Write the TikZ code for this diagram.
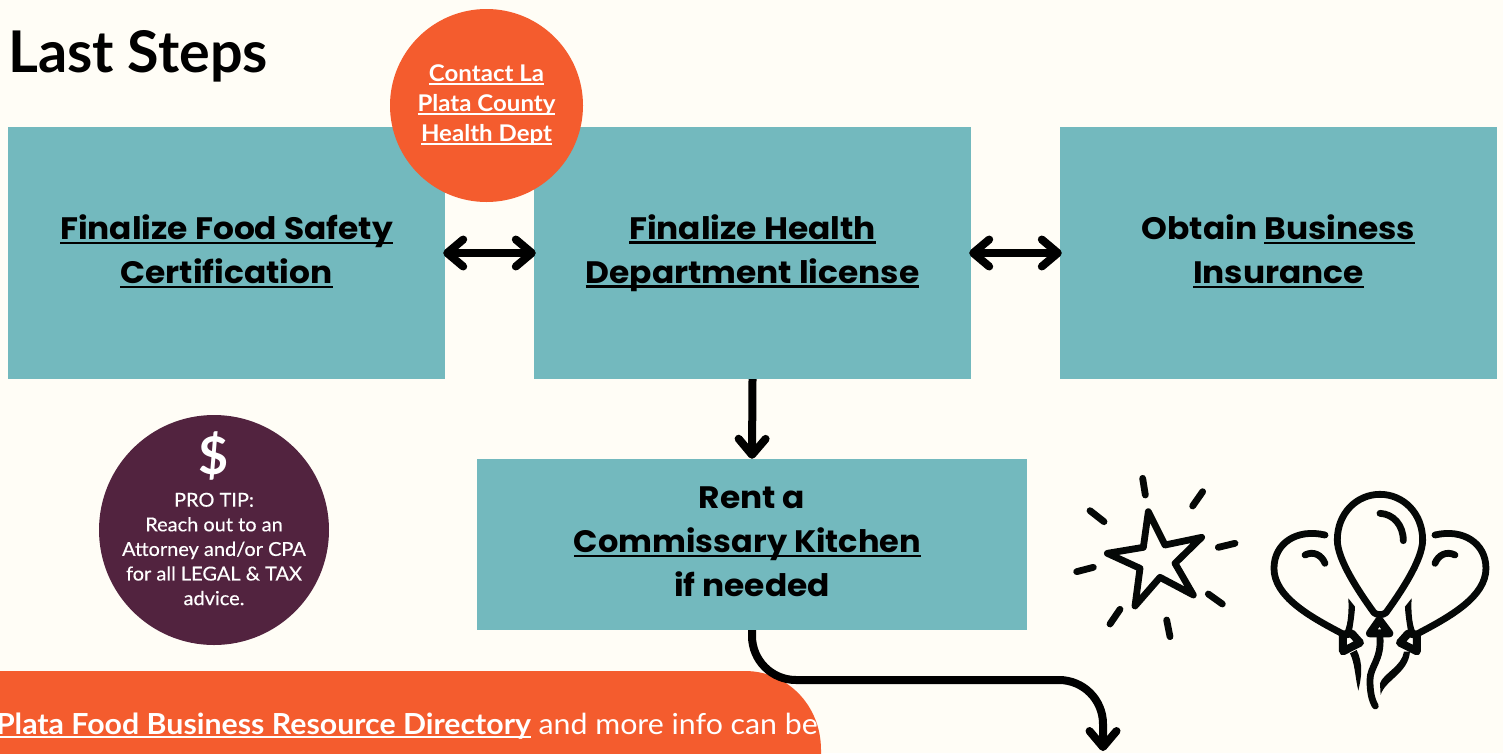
\documentclass[tikz,border=0pt]{standalone}
\usepackage{fontspec}
\usetikzlibrary{arrows.meta}
\newfontfamily\boxfont[FakeStretch=1.06]{Poppins}
\newfontfamily\softfont{Lato}
\newfontfamily\widefont[FakeStretch=1.045]{Lato}
\newfontfamily\medfont[FakeStretch=1.04,FakeBold=0.35]{Lato}
\definecolor{paper}{HTML}{FFFDF6}
\definecolor{teal}{HTML}{73B9BE}
\definecolor{flame}{HTML}{F45C2E}
\definecolor{plum}{HTML}{52233F}
\definecolor{ink}{HTML}{050807}
\newcommand{\uln}[1]{\setbox0=\hbox{#1}\rlap{\rule[-0.14em]{\wd0}{0.08em}}\box0 }
\newcommand{\bst}{\vrule width 0pt height 24pt depth 7.5pt\relax}
\tikzset{
  stepbox/.style={fill=teal,text=black,align=center,inner sep=0pt,font=\boxfont\bfseries\fontsize{31}{44}\selectfont},
  conn/.style={draw=black,line width=8pt,line cap=butt,line join=round},
  head/.style={-{Straight Barb[round,length=16pt,width=27pt,line width=8pt]}},
  dhead/.style={{Straight Barb[round,length=16pt,width=27pt,line width=8pt]}-{Straight Barb[round,length=16pt,width=27pt,line width=8pt]},shorten <=-2pt,shorten >=-2pt},
  whitetext/.style={text=white,align=center,inner sep=0pt},
  icon/.style={draw=ink,line width=6.8pt,line cap=round,line join=round},
  knot/.style={icon,line width=8pt},
}
\begin{document}
\begin{tikzpicture}[x=1pt,y=-1pt]
\useasboundingbox (0,0) rectangle (1503,753);
\clip (0,0) rectangle (1503,753);
\fill[paper] (0,0) rectangle (1503,753);
\node[anchor=base west,inner sep=0pt,font=\softfont\bfseries\fontsize{57.5}{60}\selectfont] (title) at (8,72) {Last Steps};

\node[stepbox,minimum width=437pt,minimum height=252pt] (food) at (226.5,253) {\bst\uln{Finalize Food Safety}\\\bst\uln{Certification}};
\node[stepbox,minimum width=437pt,minimum height=252pt] (health) at (752.5,253) {\bst\uln{Finalize Health}\\\bst\uln{Department license}};
\node[stepbox,minimum width=437pt,minimum height=252pt] (insure) at (1278.5,253) {\bst Obtain \uln{Business}\\\bst\uln{Insurance}};
\node[stepbox,minimum width=550pt,minimum height=171pt] (rent) at (752,544.5) {\bst Rent a\\\hbox{\uln{\resizebox{347pt}{\height}{Commissary Kitchen}}\kern9pt}\\\bst if needed};

\node[circle,fill=flame,minimum size=193pt,inner sep=0pt] (contact) at (486.5,105.5) {};
\node[whitetext,font=\widefont\bfseries\fontsize{23}{30}\selectfont] (contacttext) at (486.5,105.5) {\uln{Contact La}\\\uln{Plata County}\\\uln{Health Dept}};

\node[circle,fill=plum,minimum size=230pt,inner sep=0pt] (tip) at (214,530) {};
\node[whitetext,font=\softfont\bfseries\fontsize{52}{60}\selectfont] (dollar) at (214,456) {\$};
\node[whitetext,font=\medfont\fontsize{19.2}{24.6}\selectfont] (tiptext) at (214,549) {PRO TIP:\\Reach out to an\\Attorney and/or CPA\\for all LEGAL \& TAX\\advice.};

\fill[flame] (-60,671) -- (745,671) .. controls (787,671) and (821,705) .. (821,750) -- (821,800) -- (-60,800) -- cycle;
\node[anchor=base east,text=white,inner sep=0pt,font=\widefont\fontsize{29}{30}\selectfont] (directory) at (818,734) {\textbf{\uln{Plata Food Business Resource Directory}} and more info can be};

\draw[conn,dhead] (food.east) -- (health.west);
\draw[conn,dhead] (health.east) -- (insure.west);
\draw[conn,head] (health.south) -- (rent.north);
\coordinate (turn) at (1103,680);
\coordinate (end) at (1103,751);
\draw[conn,head,rounded corners=44pt] (rent.south) |- (turn) -- (end);

% star and balloons, in zoom coordinates
\begin{scope}[shift={(1050,460)},x=0.3333pt,y=-0.3333pt]
\draw[icon] (295,155) -- (345,255) -- (455,232) -- (375,310) -- (430,405) -- (330,352) -- (255,438) -- (270,325) -- (172,280) -- (280,262) -- cycle;
\draw[icon] (278,55) -- (286,105) (458,95) -- (428,138) (555,250) -- (505,262) (475,402) -- (517,432) (350,480) -- (360,530) (210,448) -- (180,492) (130,322) -- (80,335) (120,152) -- (162,185);
% centre balloon
\draw[icon] (972,458) .. controls (930,400) and (862,300) .. (862,240) .. controls (862,160) and (920,103) .. (990,103) .. controls (1060,103) and (1118,160) .. (1118,240) .. controls (1118,300) and (1050,400) .. (1008,458) .. controls (1000,466) and (980,466) .. (972,458) -- cycle;
\draw[icon] (990,160) .. controls (1030,162) and (1060,195) .. (1060,242);
\draw[knot] (988,480) -- (960,520) -- (1018,520) -- cycle;
\draw[icon] (990,530) .. controls (995,600) and (960,620) .. (960,660) .. controls (960,695) and (965,720) .. (976,738);
% left balloon
\draw[icon] (825,225) .. controls (740,205) and (672,250) .. (672,325) .. controls (672,410) and (780,470) .. (875,520);
\draw[icon] (765,285) .. controls (790,272) and (815,285) .. (825,310);
\draw[knot] (879,524) -- (879,574) -- (930,548) -- (905,520) -- cycle;
\fill[ink] (895,415) .. controls (897,450) and (895,490) .. (884,515) -- (905,518) .. controls (912,480) and (915,450) .. (915,440) -- cycle;
\fill[ink] (900,580) .. controls (915,610) and (915,650) .. (925,692) .. controls (935,650) and (940,610) .. (920,570) -- cycle;
% right balloon
\draw[icon] (1155,225) .. controls (1240,205) and (1308,250) .. (1308,325) .. controls (1308,410) and (1200,470) .. (1105,520);
\draw[icon] (1215,285) .. controls (1190,272) and (1165,285) .. (1155,310);
\draw[knot] (1101,524) -- (1101,574) -- (1050,548) -- (1075,520) -- cycle;
\fill[ink] (1085,415) .. controls (1083,450) and (1085,490) .. (1096,515) -- (1075,518) .. controls (1068,480) and (1065,450) .. (1065,440) -- cycle;
\fill[ink] (1062,575) .. controls (1055,620) and (1000,640) .. (990,670) -- (992,705) .. controls (1005,660) and (1075,640) .. (1080,575) -- cycle;
\end{scope}
\end{tikzpicture}
\end{document}
